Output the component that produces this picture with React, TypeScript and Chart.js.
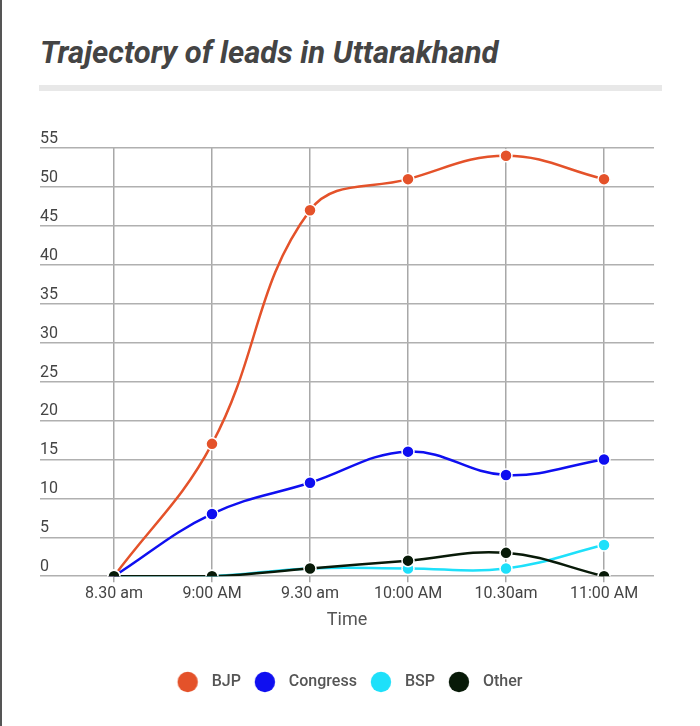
import React, { useEffect, useRef } from "react";
import { Chart, registerables } from "chart.js";

Chart.register(...registerables);

const categories = ["8.30 am", "9:00 AM", "9.30 am", "10:00 AM", "10.30am", "11:00 AM"];
const seriesNames = ["BJP", "Congress", "BSP", "Other"];
const bjp = [0, 17, 47, 51, 54, 51];
const congress = [0, 8, 12, 16, 13, 15];
const bsp = [0, 0, 1, 1, 1, 4];
const other = [0, 0, 1, 2, 3, 0];
const seriesColors = ["#e4522a", "#0f0ff0", "#1ee0fa", "#081a08"];
const drawOrder = [1, 2, 3, 0];
const yTicks = [0, 5, 10, 15, 20, 25, 30, 35, 40, 45, 50, 55];

function legendDot(color: string) {
  const c = document.createElement("canvas");
  c.width = 32;
  c.height = 22;
  const ctx = c.getContext("2d")!;
  ctx.fillStyle = color;
  ctx.beginPath();
  ctx.arc(16, 11, 10.2, 0, Math.PI * 2);
  ctx.fill();
  return c;
}

export default function App() {
  const ref = useRef<HTMLCanvasElement | null>(null);

  useEffect(() => {
    document.body.style.margin = "0";
    const allSeries = [bjp, congress, bsp, other];
    const dots = seriesColors.map(legendDot);
    const chart = new Chart(ref.current!, {
      type: "line",
      data: {
        datasets: allSeries.map((vals, si) => ({
          label: seriesNames[si],
          data: vals.map((v, i) => ({ x: i, y: v })),
          borderColor: seriesColors[si],
          backgroundColor: seriesColors[si],
          pointBackgroundColor: seriesColors[si],
          pointBorderColor: "#ffffff",
          pointBorderWidth: 1.5,
          pointRadius: 6,
          borderWidth: 2.5,
          tension: 0.4,
          fill: false,
          order: drawOrder[si],
        })),
      },
      options: {
        animation: false,
        responsive: false,
        maintainAspectRatio: false,
        layout: { padding: { left: 40, right: 46, top: 48, bottom: 26 } },
        scales: {
          x: {
            type: "linear",
            min: -0.755,
            max: 5.51,
            afterBuildTicks: (axis: any) => {
              axis.ticks = categories.map((_, i) => ({ value: i }));
            },
            ticks: {
              callback: (v: any) => categories[v] ?? "",
              color: "#444",
              font: { family: "Roboto", size: 16 },
              padding: 2,
              maxRotation: 0,
              autoSkip: false,
            },
            grid: { color: "#a8a8a8", lineWidth: 1.5, drawTicks: true, tickLength: 6 },
            border: { display: false },
            title: {
              display: true,
              text: "Time",
              color: "#555",
              font: { family: "Roboto", size: 18 },
              padding: { top: 4, bottom: 35 },
            },
          },
          y: {
            min: 0,
            max: 55,
            afterBuildTicks: (axis: any) => {
              axis.ticks = yTicks.map((v) => ({ value: v }));
            },
            ticks: {
              mirror: true,
              padding: 0,
              labelOffset: -9,
              color: "#444",
              font: { family: "Roboto", size: 16 },
            },
            grid: { color: "#b0b0b0", lineWidth: 1.5, drawTicks: false },
            border: { display: false },
          },
        },
        plugins: {
          legend: {
            position: "bottom",
            labels: {
              usePointStyle: true,
              pointStyleWidth: 32,
              padding: 8,
              color: "#555",
              font: { family: "Roboto", size: 16, weight: "500" },
              generateLabels: (ch: any) => {
                const items = Chart.defaults.plugins.legend.labels.generateLabels(ch);
                items.sort((a: any, b: any) => a.datasetIndex - b.datasetIndex);
                return items.map((it: any) => ({ ...it, pointStyle: dots[it.datasetIndex] }));
              },
            },
          },
          tooltip: { enabled: false },
        },
      },
    } as any);
    return () => chart.destroy();
  }, []);

  return (
    <div style={{ position: "relative", width: 700, height: 726, background: "#fff", overflow: "hidden" }}>
      <div style={{ position: "absolute", left: 0, top: 0, width: 2, height: 726, background: "#555" }} />
      <div
        style={{
          position: "absolute",
          left: 40,
          top: 35,
          fontFamily: "Roboto",
          fontWeight: 700,
          fontStyle: "italic",
          fontSize: 31,
          color: "#444",
          lineHeight: "36px",
          whiteSpace: "nowrap",
        }}
      >
        Trajectory of leads in Uttarakhand
      </div>
      <div style={{ position: "absolute", left: 39, top: 85, width: 623, height: 6, background: "#e8e8e8" }} />
      <canvas ref={ref} width={700} height={626} style={{ position: "absolute", left: 0, top: 100, width: 700, height: 626 }} />
    </div>
  );
}
